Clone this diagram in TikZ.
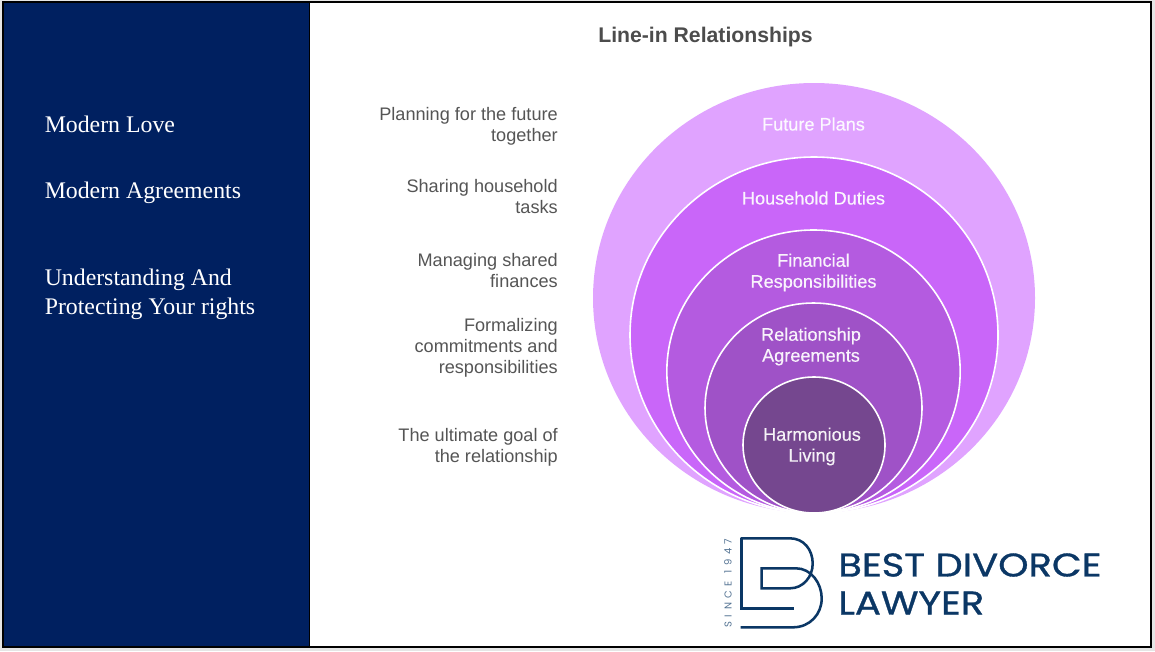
\documentclass[tikz,border=0pt]{standalone}
\usepackage{fontspec}
\usetikzlibrary{shapes.geometric}
\setmainfont{Liberation Sans}
\newfontfamily\serifpanel{Liberation Serif}
\newfontfamily\ringfont{Liberation Sans}[FakeBold=0.25]
\newfontfamily\logofont{Poppins}[FakeBold=1.0,FakeStretch=1.18]
\newfontfamily\logosmall{Poppins}[LetterSpace=46]
\definecolor{navy}{HTML}{002060}
\definecolor{logoblue}{HTML}{0B3765}
\definecolor{pA}{HTML}{E0A3FF}
\definecolor{pB}{HTML}{C966F9}
\definecolor{pC}{HTML}{B45BE0}
\definecolor{pD}{HTML}{9F52C7}
\definecolor{pE}{HTML}{75478F}
\definecolor{labelgrey}{HTML}{555555}
\tikzset{
  ring/.style={ellipse,inner sep=0pt,outer sep=0pt,draw=white,line width=1.2pt},
  ringtext/.style={text=white,align=center,font=\ringfont\fontsize{13.6}{15.75}\selectfont,inner sep=0pt,text opacity=.93},
  sidelabel/.style={text=labelgrey,align=right,anchor=east,font=\fontsize{13.6}{15.75}\selectfont,inner sep=0pt},
  panelitem/.style={text=white,anchor=west,align=left,font=\serifpanel\fontsize{17.85}{21.75}\selectfont,inner sep=0pt},
  logoline/.style={draw=logoblue,line width=1.9pt,line cap=butt,line join=miter}
}
\begin{document}
\begin{tikzpicture}[x=0.75pt,y=-0.75pt]
\useasboundingbox (0,0) rectangle (1155,651);
\fill[black!10] (0,0) rectangle (1155,651);
\fill[white] (3,2) rectangle (1151,647);
\fill[navy] (3,2) rectangle (309.5,647);
\draw[black,line width=0.6pt] (309.5,2) -- (309.5,647);
\draw[black,line width=0.9pt] (3,2) rectangle (1151,647);

\node[panelitem] (love) at (44.5,124) {Modern Love};
\node[panelitem] (agree) at (44.5,193) {Modern Agreements};
\node[panelitem] (rights) at (44.5,294) {Understanding And\\Protecting Your rights};

\node[text=labelgrey!90!black,font=\fontsize{15.9}{18}\selectfont\bfseries,inner sep=0pt] (title) at (705.5,37) {Line-in Relationships};

\node[ring,draw=none,fill=pA,minimum width=331.5pt,minimum height=322.5pt] (e1) at (814,298) {};
\node[ring,fill=pB,minimum width=276pt,minimum height=267pt] (e2) at (814,335) {};
\node[ring,fill=pC,minimum width=220pt,minimum height=212.25pt] (e3) at (813.5,371.5) {};
\node[ring,fill=pD,minimum width=162.75pt,minimum height=157.5pt] (e4) at (813.5,408) {};
\node[ring,fill=pE,minimum width=106.5pt,minimum height=102pt] (e5) at (814,445) {};

\node[ringtext] (t1) at (813.5,124) {Future Plans};
\node[ringtext] (t2) at (813.5,198) {Household Duties};
\node[ringtext] (t3) at (813.5,272.5) {Financial\\Responsibilities};
\node[ringtext] (t4) at (811,346.5) {Relationship\\Agreements};
\node[ringtext] (t5) at (812,446.5) {Harmonious\\Living};

\node[sidelabel] (s1) at (558,126.5) {Planning for the future\\together};
\node[sidelabel] (s2) at (558,197) {Sharing household\\tasks};
\node[sidelabel] (s3) at (558,271) {Managing shared\\finances};
\node[sidelabel] (s4) at (558,347.5) {Formalizing\\commitments and\\responsibilities};
\node[sidelabel] (s5) at (558,447.5) {The ultimate goal of\\the relationship};

% logo mark
\draw[logoline] (740.7,538.3) -- (790,538.3)
  .. controls (804,538.3) and (812.7,550) .. (812.7,563.5)
  .. controls (812.7,577) and (803,588.3) .. (790,588.3)
  -- (761.7,588.3) -- (761.7,568.3) -- (796,568.3)
  .. controls (811,568.3) and (821.7,583) .. (821.7,598.5)
  .. controls (821.7,614) and (810,627.3) .. (793,627.3)
  -- (740.7,627.3);
\draw[logoline] (741.5,538.3) -- (741.5,608.3) -- (793.5,608.3);
\node[text=logoblue,anchor=west,inner sep=0pt,font=\logofont\fontsize{24.5}{28}\selectfont] (best) at (838,565) {BEST DIVORCE};
\node[text=logoblue,anchor=west,inner sep=0pt,font=\logofont\fontsize{24.5}{28}\selectfont] (lawyer) at (838,603) {LAWYER};
\node[text=logoblue!70,rotate=90,inner sep=0pt,font=\logosmall\fontsize{7.5}{9}\selectfont] (since) at (728,583) {SINCE 1947};
\end{tikzpicture}
\end{document}
